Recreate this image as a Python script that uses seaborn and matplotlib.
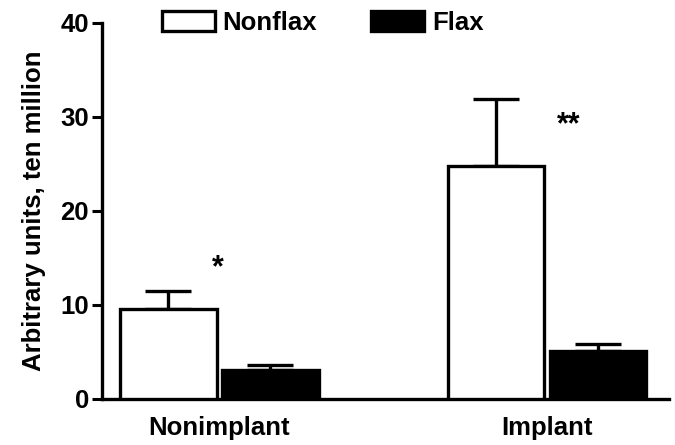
import matplotlib
matplotlib.use("Agg")
import matplotlib.pyplot as plt
import seaborn as sns
import pandas as pd
import numpy as np

groups = ["Nonimplant", "Implant"]
diets = ["Nonflax", "Flax"]
nonflax_mean = [9.6, 24.8]
nonflax_sem = [1.9, 7.1]
flax_mean = [3.1, 5.1]
flax_sem = [0.5, 0.7]
star_labels = ["*", "**"]
star_x = [-0.005, 1.065]
star_y = [13.9, 29.1]

df = pd.DataFrame({
    "group": groups * 2,
    "diet": ["Nonflax"] * 2 + ["Flax"] * 2,
    "value": nonflax_mean + flax_mean,
    "err": nonflax_sem + flax_sem,
})

sns.set_style("ticks")
plt.rcParams["font.family"] = ["Liberation Sans", "DejaVu Sans"]
plt.rcParams["font.weight"] = "bold"
for k in ["text.color", "axes.labelcolor", "xtick.color", "ytick.color",
          "axes.edgecolor"]:
    plt.rcParams[k] = "black"

FS = 18.5
fig = plt.figure(figsize=(6.75, 4.45), dpi=100)
ax = fig.add_axes([0.1511, 0.1034, 0.840, 0.846])

sns.barplot(data=df, x="group", y="value", hue="diet", order=groups,
            hue_order=diets, palette={"Nonflax": "white", "Flax": "black"},
            width=0.622, gap=0.05, errorbar=None, edgecolor="black",
            linewidth=2.4, ax=ax, zorder=3)

# error bars (upper only), positioned from the drawn bars
for cont, d in zip(ax.containers, diets):
    sub = df[df["diet"] == d].set_index("group").loc[groups]
    xs = [p.get_x() + p.get_width() / 2 for p in cont.patches]
    ax.errorbar(xs, sub["value"], yerr=[np.zeros(len(xs)), sub["err"]],
                fmt="none", ecolor="black", elinewidth=2.4, capsize=16.5,
                capthick=2.4, zorder=2)

for x, s, y in zip(star_x, star_labels, star_y):
    ax.text(x, y, s, ha="center", va="center", fontsize=22, fontweight="bold",
            color="black")

ax.set_ylim(0, 40)
ax.set_xlim(-0.357, 1.372)
ax.set_yticks([0, 10, 20, 30, 40])
ax.set_xlabel("")
ax.set_ylabel("Arbitrary units, ten million", fontsize=FS, fontweight="bold",
              labelpad=10)
ax.tick_params(axis="y", length=7.5, width=2.2, labelsize=FS, direction="out",
               pad=2)
ax.tick_params(axis="x", length=0, labelsize=FS, pad=12)
for lab in ax.get_xticklabels() + ax.get_yticklabels():
    lab.set_fontweight("bold")
sns.despine(ax=ax)
for sp in ["left", "bottom"]:
    ax.spines[sp].set_linewidth(2.4)
    ax.spines[sp].set_color("black")

leg = ax.legend(loc="center left", bbox_to_anchor=(0.106, 1.0), ncol=2,
                frameon=False, fontsize=FS, handlelength=2.06, handleheight=0.82,
                columnspacing=2.1, handletextpad=0.3, borderaxespad=0,
                borderpad=0)
for t in leg.get_texts():
    t.set_fontweight("bold")

fig.savefig("out.png", dpi=100)
